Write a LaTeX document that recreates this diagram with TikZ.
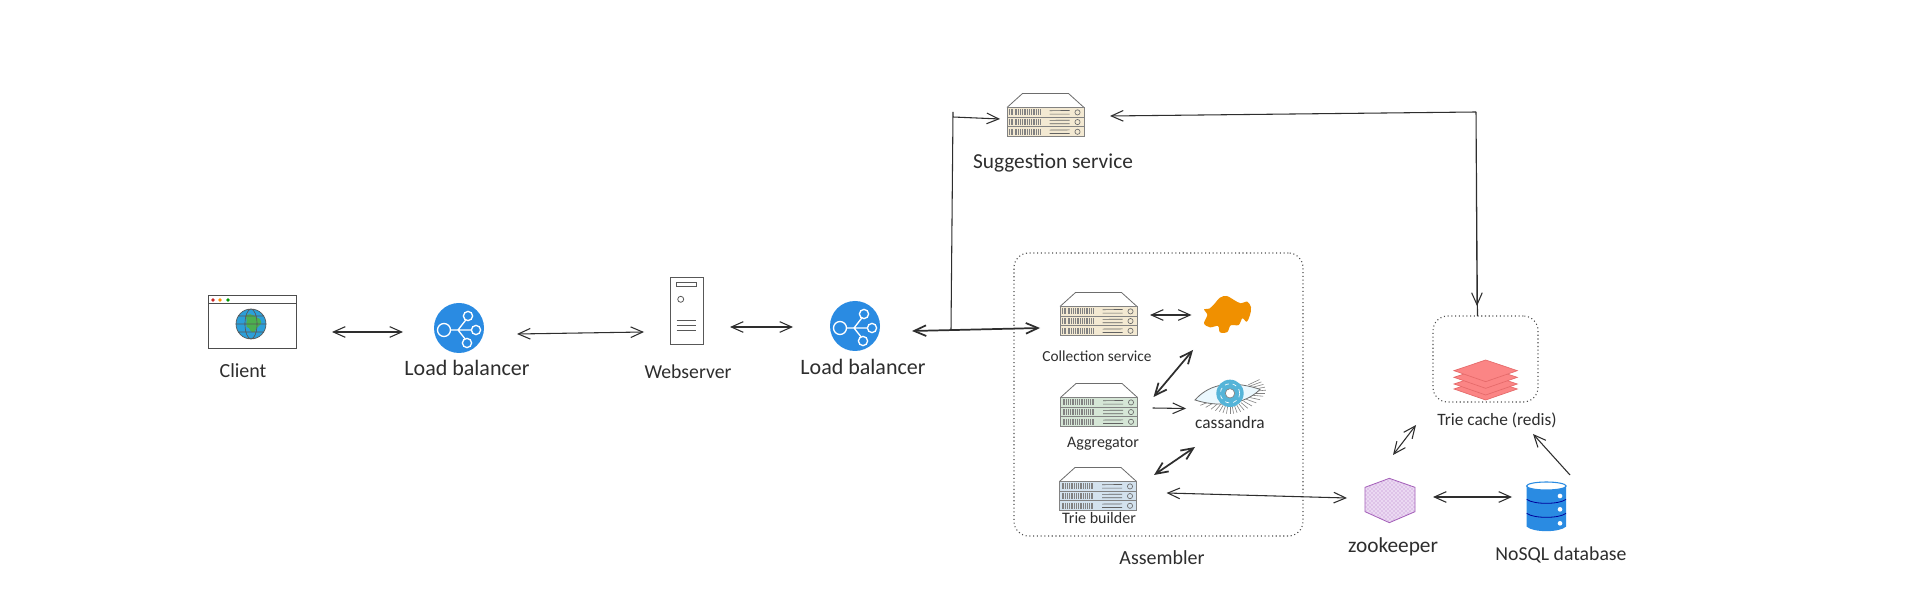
\documentclass[tikz,border=0pt]{standalone}
\usepackage{fontspec}
\setmainfont{Carlito}
\usetikzlibrary{arrows.meta,patterns,calc}
\definecolor{ink}{HTML}{2E2E2E}
\definecolor{lbblue}{HTML}{2A8BE2}
\definecolor{srvtan}{HTML}{F3E9D2}
\definecolor{srvgreen}{HTML}{D5E6D6}
\definecolor{srvblue}{HTML}{D3E2EE}
\definecolor{hadoop}{HTML}{F09000}
\definecolor{redisfill}{HTML}{FB8585}
\definecolor{redisline}{HTML}{E56A6A}
\definecolor{globeblue}{HTML}{2C9FD9}
\definecolor{globegreen}{HTML}{4CAF50}
\definecolor{irisblue}{HTML}{55B4D8}
\definecolor{zkfill}{HTML}{EBD9F2}
\definecolor{zkdots}{HTML}{B77CCB}
\definecolor{zkline}{HTML}{A35DB8}
\def\px{0.75pt}
\tikzset{
  x=0.75pt,y=-0.75pt,
  lnk/.style={draw=ink,line width=0.8pt,{Straight Barb[length=9pt,width=8pt]}-{Straight Barb[length=9pt,width=8pt]}},
  lnkone/.style={draw=ink,line width=0.8pt,-{Straight Barb[length=9pt,width=8pt]}},
  lnkthick/.style={lnk,line width=1.3pt},
  plainline/.style={draw=ink,line width=0.8pt},
  hold/.style={inner sep=0pt,outer sep=0pt,minimum width=#1*\px},
  lab/.style={text=ink,font=\fontsize{16.5}{20}\selectfont,inner sep=0pt},
  labsmall/.style={text=ink,font=\fontsize{11.5}{14}\selectfont,inner sep=0pt},
  dotbox/.style={draw=ink!85,dotted,line width=0.8pt,rounded corners=11pt,inner sep=0pt},
  pics/server/.style={code={
    \draw[draw=ink!70,line width=0.6pt] (-38.5,-8) -- (-23,-22) -- (23,-22) -- (38.5,-8);
    \foreach \yy in {-8,1.7,11.4}{
      \draw[draw=ink!60,fill=#1,line width=0.6pt] (-38.5,\yy) rectangle (38.5,\yy+9.7);
      \foreach \xx in {-36,-34.4,-32.8,-30.6,-29,-27.2,-25.4,-23.6,-21.6,-19.8,-18,-16.4,-14.4,-12.6,-10.8,-9,-7.2,-5.6}{
        \draw[ink!60,line width=0.4pt] (\xx,\yy+2) -- (\xx,\yy+7.8);
      }
      \draw[ink!75,line width=0.5pt] (4,\yy+3.2) -- (24,\yy+3) (4,\yy+6.6) -- (24,\yy+6.6);
      \draw[ink!70,line width=0.5pt] (32,\yy+4.9) circle (2.6);
    }
  }},
  pics/balancer/.style={code={
    \fill[lbblue] (0,0) circle (25);
    \draw[white,line width=1pt] (-15,2) circle (6.5) (9,-12) circle (4.6) (17,2) circle (4.6) (8,15) circle (4.6);
    \draw[white,line width=1pt] (-8.5,2) -- (12.4,2) (-1,2) -- (6.8,-8) (-1,2) -- (6,10.8);
  }}
}
\begin{document}
\begin{tikzpicture}
\fill[white] (0,0) rectangle (1920,605);
\useasboundingbox (0,0) rectangle (1920,605);

% ---------- client
\node[hold=88,minimum height=53*\px] (client) at (252,321.5) {};
\draw[ink!85,line width=0.7pt] (208,295) rectangle (296,348) (208,303) -- (296,303);
\fill[red!75!black!85] (213,300) circle (1.9);
\fill[orange!85!yellow] (220,300) circle (1.9);
\fill[green!60!black] (228,300) circle (1.9);
\fill[globeblue] (251,324) circle (15);
\fill[globegreen] (246,315) .. controls (252,312) and (256,318) .. (260,319) .. controls (264,324) and (258,326) .. (256,329) .. controls (255,335) and (250,332) .. (249,328) .. controls (244,328) and (248,322) .. (246,315) -- cycle;
\draw[ink!80,line width=0.5pt] (251,324) circle (15) (251,324) ellipse (6 and 15) (236,324) -- (266,324) (238,316) -- (264,316) (238,332) -- (264,332);
\node[lab,font=\fontsize{15}{18}\selectfont] (clientL) at (243,371) {Client};

% ---------- load balancers
\node[hold=50,minimum height=50*\px] (lbone) at (459,328) {};
\pic at (459,328) {balancer};
\node[lab] (lboneL) at (467,368) {Load balancer};
\node[hold=50,minimum height=50*\px] (lbtwo) at (855,326) {};
\pic at (855,326) {balancer};
\node[lab] (lbtwoL) at (863,367) {Load balancer};

% ---------- webserver
\node[hold=33,minimum height=67*\px] (web) at (686.5,310.5) {};
\draw[ink!80,line width=0.7pt] (670,277) rectangle (703,344);
\draw[ink!80,line width=0.6pt] (676,282.5) rectangle (696.5,286.5);
\draw[ink!80,line width=0.6pt] (680.7,299.3) circle (3);
\draw[ink!80,line width=0.6pt] (676.5,320) -- (696,320) (676.5,325) -- (696,325) (676.5,330) -- (696,330);
\node[lab,font=\fontsize{14.8}{18}\selectfont] (webL) at (688,372) {Webserver};

% ---------- suggestion service
\node[hold=77,minimum height=43*\px] (sug) at (1045.5,115.5) {};
\pic at (1045.5,115.5) {server=srvtan};
\node[lab,font=\fontsize{16}{19}\selectfont] (sugL) at (1053,163) {Suggestion service};

% ---------- assembler
\node[dotbox,minimum width=289*\px,minimum height=283*\px] (asm) at (1158.5,394.5) {};
\node[lab,font=\fontsize{15}{18}\selectfont] (asmL) at (1162,558) {Assembler};
\node[hold=77,minimum height=43*\px] (coll) at (1098.5,314.5) {};
\pic at (1098.5,314.5) {server=srvtan};
\node[labsmall] (collL) at (1097,356) {Collection service};
\node[hold=77,minimum height=43*\px] (agg) at (1099,405.5) {};
\pic at (1099,405.5) {server=srvgreen};
\node[labsmall,font=\fontsize{12}{14}\selectfont] (aggL) at (1103,444) {Aggregator};
\node[hold=77,minimum height=43*\px] (trie) at (1098,489.5) {};
\pic at (1098,489.5) {server=srvblue};
\node[labsmall,font=\fontsize{12}{14}\selectfont] (trieL) at (1099,518) {Trie builder};

% hadoop elephant
\node[hold=49,minimum height=37*\px] (had) at (1227,315) {};
\begin{scope}[shift={(1000,250)},x=0.25pt,y=-0.25pt]
\fill[hadoop] plot[smooth cycle,tension=0.55] coordinates {(612,178) (628,176) (642,163) (660,143) (680,138) (702,150) (722,160) (742,155) (753,172) (750,195) (740,215) (727,205) (716,225) (692,226) (682,246) (660,247) (654,228) (630,232) (612,220) (622,195)};
\end{scope}

% cassandra eye
\node[hold=70,minimum height=34*\px] (cas) at (1230,395) {};
\begin{scope}[shift={(1000,250)},x=0.25pt,y=-0.25pt]
\foreach \a/\l in {-25/98,-20/100,-15/104,-10/106,-5/108,0/106,5/100,12/92,20/84,30/76,40/70,50/66,60/64,70/62,80/62,90/62,100/62,110/62,120/64,130/68,140/74,150/84,158/96}{
  \draw[ink!60,line width=0.45pt] ($(690,430)+(\a:\l*0.62)$) -- ($(690,430)+(\a:\l)$);
}
\draw[ink!70,fill=cyan!8,line width=0.6pt] (585,450) .. controls (620,410) and (680,385) .. (780,418) .. controls (750,450) and (680,480) .. (585,450) -- cycle;
\fill[irisblue] (690,430) circle (41);
\draw[white,line width=0.5pt,dashed] (690,430) circle (29);
\fill[white] (690,430) circle (14);
\draw[ink!60,line width=0.5pt] (690,430) circle (14);
\end{scope}
\node[lab,font=\fontsize{13}{16}\selectfont] (casL) at (1230,423) {cassandra};

% ---------- zookeeper
\node[hold=50,minimum height=44*\px] (zk) at (1390,500) {};
\begin{scope}[shift={(1320,300)},x=0.25pt,y=-0.25pt]
\draw[draw=zkline,fill=zkfill,line width=0.6pt] (208,535) -- (285,562) -- (285,635) -- (208,668) -- (135,635) -- (135,562) -- cycle;
\fill[pattern=crosshatch dots,pattern color=zkdots] (208,535) -- (285,562) -- (285,635) -- (208,668) -- (135,635) -- (135,562) -- cycle;
\end{scope}
\node[lab,font=\fontsize{16}{19}\selectfont] (zkL) at (1393,547) {zookeeper};

% ---------- database
\node[hold=39,minimum height=49*\px] (db) at (1546.5,506.5) {};
\begin{scope}[shift={(1320,300)},x=0.25pt,y=-0.25pt]
\fill[lbblue] (620,558) -- (620,680) .. controls (640,698) and (718,698) .. (738,680) -- (738,558) -- cycle;
\draw[lbblue,fill=white,line width=0.8pt] (679,558) ellipse (59 and 12);
\draw[blue!60!black,line width=0.6pt] (620,598) .. controls (640,614) and (718,614) .. (738,598);
\draw[blue!60!black,line width=0.6pt] (620,640) .. controls (640,656) and (718,656) .. (738,640);
\fill[white] (720,588) circle (7) (720,628) circle (7) (720,670) circle (7);
\end{scope}
\node[lab,font=\fontsize{14.8}{18}\selectfont] (dbL) at (1561,555) {NoSQL database};

% ---------- trie cache
\node[dotbox,minimum width=105*\px,minimum height=86*\px] (cache) at (1485.5,359) {};
\foreach \dy in {55,40,20,0}{
\begin{scope}[shift={(1320,300)},x=0.25pt,y=-0.25pt]
\draw[draw=redisline,fill=redisfill,line width=0.5pt] (402,212+\dy) -- (497,180+\dy) -- (592,212+\dy) -- (497,245+\dy) -- cycle;
\end{scope}}
\node[labsmall,font=\fontsize{13}{16}\selectfont] (cacheL) at (1497,420) {Trie cache (redis)};

% ---------- helper coordinates
\coordinate (branchbot) at (951,330);
\coordinate (branchtop) at (953,112);
\coordinate (corner) at (1476,112);
\coordinate (cacheTop) at (1477.5,316);

% ---------- connectors
\draw[lnk] ([shift={(36,10.5)}]client.east) -- ([shift={(-31,4)}]lbone.west);
\draw[lnk] ([shift={(33,6)}]lbone.east) -- ([shift={(-26,21.5)}]web.west);
\draw[lnk] ([shift={(27,16.5)}]web.east) -- ([shift={(-37,1)}]lbtwo.west);
\draw[lnkthick] ([shift={(32,5)}]lbtwo.east) -- ([shift={(-20,13.5)}]coll.west);
\draw[plainline] (branchbot) -- (branchtop);
\draw[lnkone] ([yshift=-3.75pt]branchtop) -- ([shift={(-7,3.5)}]sug.west);
\draw[lnkone] (corner) -- ([shift={(26,0.5)}]sug.east);
\draw[lnkone] (cacheTop) -- (corner) -- ([shift={(-0.5,-10)}]cacheTop);
\draw[lnk] ([shift={(13,0.5)}]coll.east) -- ([shift={(-11,0)}]had.west);
\draw[lnkthick] ([shift={(-34,35)}]had.center) -- ([shift={(16,-8.5)}]agg.east);
\draw[lnkone] ([shift={(15,2.5)}]agg.east) -- ([shift={(-9,13.5)}]cas.west);
\draw[lnkthick] ([shift={(-35,52)}]cas.center) -- ([shift={(17.5,-14.5)}]trie.east);
\draw[lnk] ([shift={(30,3.5)}]trie.east) -- ([shift={(-18,-2)}]zk.west);
\draw[lnk] ([shift={(18,-3)}]zk.east) -- ([shift={(-15,-9.5)}]db.west);
\draw[lnkone] ([shift={(23.5,-31.5)}]db.center) -- ([shift={(47.5,75)}]cache.center);
\draw[lnk] ([shift={(3,-45)}]zk.center) -- ([shift={(-69.5,66)}]cache.center);
\end{tikzpicture}
\end{document}
